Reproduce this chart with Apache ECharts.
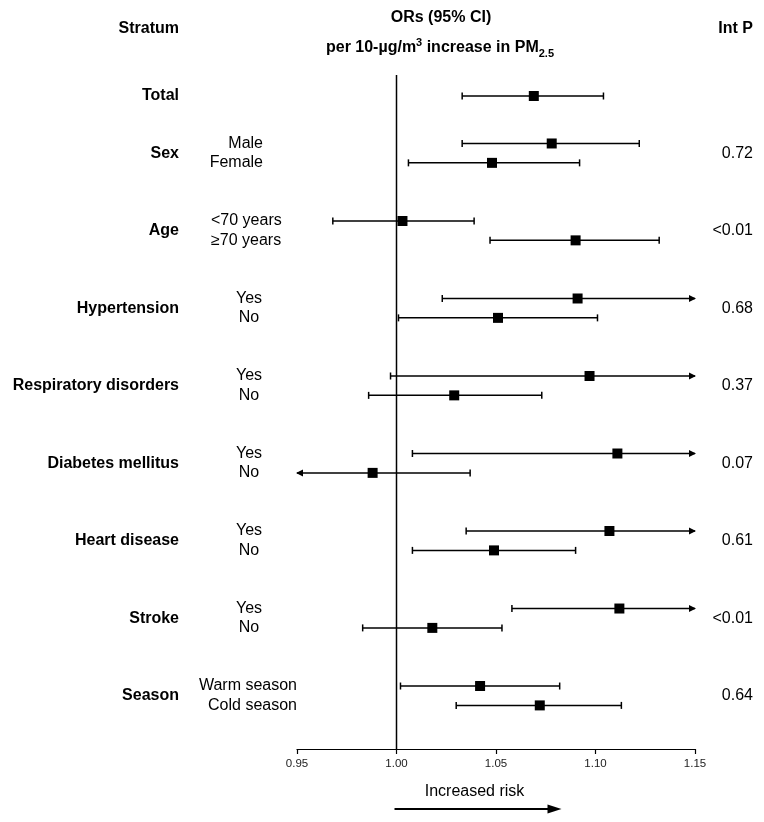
<!DOCTYPE html>
<html>
<head>
<meta charset="utf-8">
<script src="https://cdn.jsdelivr.net/npm/echarts@6/dist/echarts.min.js"></script>
<style>
html,body{margin:0;padding:0;background:#ffffff;}
#chart{width:764px;height:822px;}
</style>
</head>
<body>
<div id="chart"></div>
<script>
// ---------------- DATA ----------------
const groupNames = ['Total', 'Sex', 'Age', 'Hypertension', 'Respiratory disorders',
  'Diabetes mellitus', 'Heart disease', 'Stroke', 'Season'];
const intP = ['', '0.72', '<0.01', '0.68', '0.37', '0.07', '0.61', '<0.01', '0.64'];

const rowGroup  = [0, 1, 1, 2, 2, 3, 3, 4, 4, 5, 5, 6, 6, 7, 7, 8, 8];
const rowLabels = ['', 'Male', 'Female', '<70 years', '\u226570 years', 'Yes', 'No', 'Yes', 'No',
  'Yes', 'No', 'Yes', 'No', 'Yes', 'No', 'Warm season', 'Cold season'];
const orValues  = [1.069, 1.078, 1.048, 1.003, 1.090, 1.091, 1.051, 1.097, 1.029,
  1.111, 0.988, 1.107, 1.049, 1.112, 1.018, 1.042, 1.072];
const ciLower   = [1.033, 1.033, 1.006, 0.968, 1.047, 1.023, 1.001, 0.997, 0.986,
  1.008, 0.942, 1.035, 1.008, 1.058, 0.983, 1.002, 1.030];
const ciUpper   = [1.104, 1.122, 1.092, 1.039, 1.132, 1.164, 1.101, 1.206, 1.073,
  1.224, 1.037, 1.184, 1.090, 1.168, 1.053, 1.082, 1.113];

const xTicks = [0.95, 1.00, 1.05, 1.10, 1.15];
const refValue = 1.00;

// ---------------- LAYOUT ----------------
const FONT = '"Liberation Sans", Arial, Helvetica, sans-serif';
const subLayout = [null,
  {x: 263, align: 'right'},
  {x: 211, align: 'left'},
  {x: 249, align: 'center'},
  {x: 249, align: 'center'},
  {x: 249, align: 'center'},
  {x: 249, align: 'center'},
  {x: 249, align: 'center'},
  {x: 297, align: 'right'}];
const GROUP_LABEL_X = 179;
const INTP_X = 753;
const SLOT_MIN = -1.084, SLOT_MAX = 33.70;

// slot position of each row (vertical layout units)
const slots = [];
rowGroup.forEach((g, i) => {
  if (i === 0) slots.push(0);
  else if (g === rowGroup[i - 1]) slots.push(slots[i - 1] + 1);
  else if (rowGroup[i - 1] === 0) slots.push(slots[i - 1] + 2.45);
  else slots.push(slots[i - 1] + 3);
});
const groupSlot = groupNames.map((_, g) => {
  const s = slots.filter((_, i) => rowGroup[i] === g);
  return (Math.min(...s) + Math.max(...s)) / 2;
});

const xMin = xTicks[0], xMax = xTicks[xTicks.length - 1];
const xInterval = +(xTicks[1] - xTicks[0]).toFixed(4);

const chart = echarts.init(document.getElementById('chart'), null, {renderer: 'canvas'});

function renderRow(params, api) {
  const lo = api.value(0), pt = api.value(1), hi = api.value(2), s = api.value(3), i = api.value(4);
  const y = api.coord([pt, s])[1];
  const xp = api.coord([pt, s])[0];
  const xl = api.coord([Math.max(lo, xMin), s])[0];
  const xr = api.coord([Math.min(hi, xMax), s])[0];
  const st = {stroke: '#000', lineWidth: 1.5};
  const children = [];
  children.push({type: 'line', shape: {x1: xl, y1: y, x2: xr, y2: y}, style: st});
  if (lo < xMin) {
    children.push({type: 'polygon', shape: {points: [[xl - 1, y], [xl + 6, y - 3.5], [xl + 6, y + 3.5]]}, style: {fill: '#000'}});
  } else {
    children.push({type: 'line', shape: {x1: xl, y1: y - 3.5, x2: xl, y2: y + 3.5}, style: st});
  }
  if (hi > xMax) {
    children.push({type: 'polygon', shape: {points: [[xr + 1, y], [xr - 6, y - 3.5], [xr - 6, y + 3.5]]}, style: {fill: '#000'}});
  } else {
    children.push({type: 'line', shape: {x1: xr, y1: y - 3.5, x2: xr, y2: y + 3.5}, style: st});
  }
  children.push({type: 'rect', shape: {x: xp - 5, y: y - 5, width: 10, height: 10}, style: {fill: '#000'}});
  const L = subLayout[rowGroup[i]];
  if (L && rowLabels[i]) {
    children.push({type: 'text', style: {x: L.x, y: y, text: rowLabels[i], align: L.align,
      verticalAlign: 'middle', font: '16px ' + FONT, fill: '#000'}});
  }
  return {type: 'group', children: children};
}

function renderGroup(params, api) {
  const s = api.value(1), k = api.value(2);
  const y = api.coord([refValue, s])[1];
  const children = [
    {type: 'text', style: {x: GROUP_LABEL_X, y: y, text: groupNames[k], align: 'right',
      verticalAlign: 'middle', font: 'bold 16px ' + FONT, fill: '#000'}}
  ];
  if (intP[k]) {
    children.push({type: 'text', style: {x: INTP_X, y: y, text: intP[k], align: 'right',
      verticalAlign: 'middle', font: '16px ' + FONT, fill: '#000'}});
  }
  return {type: 'group', children: children};
}

const headerGraphics = [
  {type: 'text', style: {x: 441, y: 18, text: 'ORs (95% CI)', align: 'center',
    verticalAlign: 'middle', font: 'bold 16px ' + FONT, fill: '#000'}},
  {type: 'text', style: {x: 440, y: 48, align: 'center', verticalAlign: 'middle', fill: '#000',
    text: '{b|per 10-\u00B5g/m}{sup|3}{b| increase in PM}{sub|2.5}',
    rich: {
      b: {fontSize: 16, fontWeight: 'bold', fontFamily: FONT, lineHeight: 22, fill: '#000', color: '#000'},
      sup: {fontSize: 11, fontWeight: 'bold', fontFamily: FONT, lineHeight: 12, verticalAlign: 'top', fill: '#000', color: '#000'},
      sub: {fontSize: 11, fontWeight: 'bold', fontFamily: FONT, lineHeight: 12, verticalAlign: 'bottom', fill: '#000', color: '#000'}
    }}},
  {type: 'text', style: {x: 179, y: 29, text: 'Stratum', align: 'right', verticalAlign: 'middle',
    font: 'bold 16px ' + FONT, fill: '#000'}},
  {type: 'text', style: {x: INTP_X, y: 29, text: 'Int P', align: 'right', verticalAlign: 'middle',
    font: 'bold 16px ' + FONT, fill: '#000'}}
];

const option = {
  backgroundColor: '#ffffff',
  animation: false,
  textStyle: {fontFamily: FONT},
  grid: {left: 297, right: 69, top: 75, bottom: 73, containLabel: false},
  xAxis: {
    type: 'value', min: xMin, max: xMax, interval: xInterval, position: 'bottom',
    axisLine: {show: true, onZero: false, lineStyle: {color: '#000', width: 1.2}},
    axisTick: {show: true, inside: false, length: 5, lineStyle: {color: '#000', width: 1.2}},
    axisLabel: {show: true, margin: 9, fontSize: 11.5, color: '#222', fontFamily: FONT,
      formatter: v => v.toFixed(2)},
    splitLine: {show: false}
  },
  yAxis: {type: 'value', inverse: true, min: SLOT_MIN, max: SLOT_MAX, show: false,
    axisLine: {onZero: false}, splitLine: {show: false}},
  series: [
    {
      type: 'line', silent: true, showSymbol: false, symbol: 'none',
      data: [[refValue, SLOT_MIN], [refValue, SLOT_MAX]],
      lineStyle: {color: '#000', width: 1.5}, z: 1
    },
    {
      type: 'custom', clip: false, silent: true, z: 3,
      renderItem: renderRow,
      encode: {x: [0, 1, 2], y: 3},
      data: orValues.map((v, i) => [ciLower[i], v, ciUpper[i], slots[i], i])
    },
    {
      type: 'custom', clip: false, silent: true, z: 3,
      renderItem: renderGroup,
      encode: {x: 0, y: 1},
      data: groupNames.map((g, k) => [refValue, groupSlot[k], k])
    }
  ],
  graphic: headerGraphics
};
chart.setOption(option);

// "Increased risk" annotation anchored at the reference value
const xRef = chart.convertToPixel({xAxisIndex: 0}, refValue);
chart.setOption({
  graphic: headerGraphics.concat([
    {type: 'text', style: {x: xRef + 78, y: 792, text: 'Increased risk', align: 'center',
      verticalAlign: 'middle', font: '16px ' + FONT, fill: '#000'}},
    {type: 'line', shape: {x1: xRef - 2, y1: 809, x2: xRef + 152, y2: 809},
      style: {stroke: '#000', lineWidth: 2}},
    {type: 'polygon', shape: {points: [[xRef + 165, 809], [xRef + 151, 804.5], [xRef + 151, 813.5]]},
      style: {fill: '#000'}}
  ])
});
</script>
</body>
</html>
